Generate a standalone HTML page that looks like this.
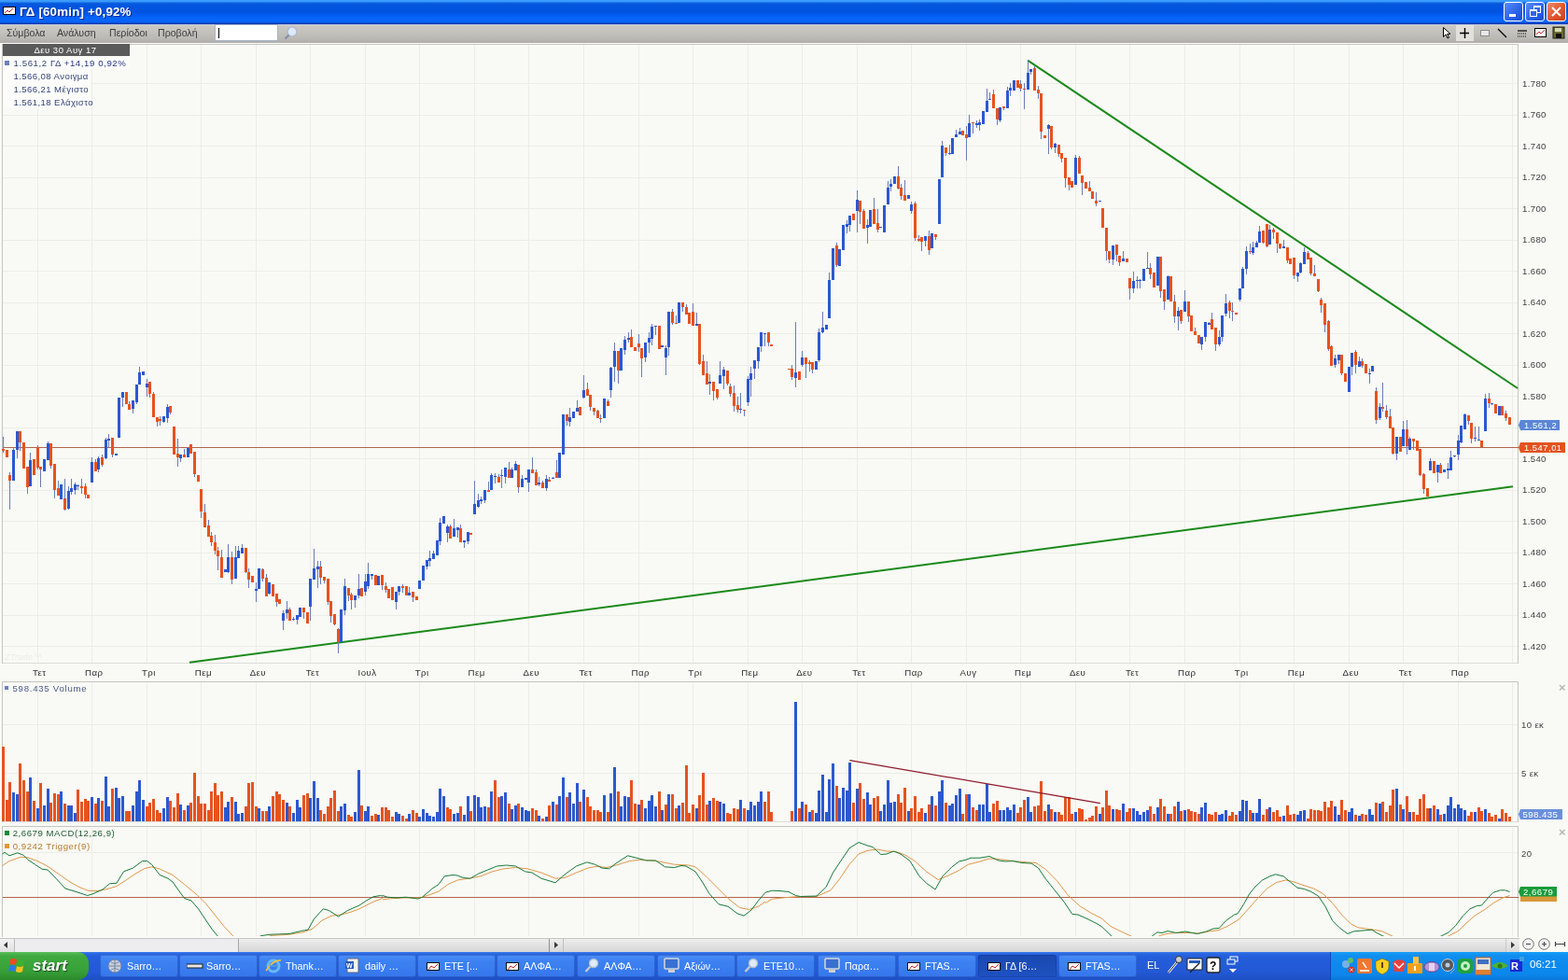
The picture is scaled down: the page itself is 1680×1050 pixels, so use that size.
<!DOCTYPE html>
<html><head><meta charset="utf-8">
<style>
html,body{margin:0;padding:0;}
body{width:1680px;height:1050px;overflow:hidden;position:relative;background:#f9f9f5;font-family:"Liberation Sans","DejaVu Sans",sans-serif;}
#title{position:absolute;left:0;top:0;width:1680px;height:26px;background:linear-gradient(to bottom,#3d9cff 0px,#3896fc 2px,#0c62dc 3px,#0356e0 5px,#0152dc 12px,#0258ea 15px,#0462f6 18px,#0866f8 22px,#0660f0 24px,#0a3cb0 25px,#0a3cb0 26px);}
#title .ic{position:absolute;left:3px;top:7px;width:12px;height:7px;background:#fff;border:1px solid #000;}
#title .tt{position:absolute;left:21px;top:5px;font:bold 13.3px "Liberation Sans",sans-serif;color:#fff;text-shadow:1px 1px 0 #0a2a8a;letter-spacing:0.2px;white-space:nowrap;}
.wb{position:absolute;top:2px;width:19px;height:19px;border:1px solid #fff;border-radius:3px;background:linear-gradient(135deg,#5a8cf8,#2a62e8 60%,#1a4ed0);}
.wb.cl{background:linear-gradient(135deg,#f08a6a,#e2552c 55%,#c8401c);}
#menu{position:absolute;left:0;top:26px;width:1680px;height:20px;background:linear-gradient(to bottom,#c4c8e0 0px,#c4c8e0 1px,#cbc9c3 1px,#c4c2bd 8px,#bbb9b4 15px,#afada9 20px);}
#menu span{position:absolute;top:3px;font-size:10.6px;color:#3c3c3c;white-space:nowrap;}
#search{position:absolute;left:230px;top:26px;width:68px;height:18px;background:#fff;border:1px solid #a8b4c8;box-sizing:border-box;}
#search i{position:absolute;left:3px;top:3px;width:1px;height:11px;background:#000;}
#scroll{position:absolute;left:0;top:1004px;width:1680px;height:16px;background:#f9f9f5;}
#taskbar{position:absolute;left:0;top:1020px;width:1680px;height:30px;background:linear-gradient(to bottom,#3b7ef0 0px,#2a66e0 2px,#245edb 5px,#2358d4 22px,#1d4fc4 30px);}
#start{position:absolute;left:0;top:0;width:95px;height:30px;border-radius:0 12px 12px 0;background:linear-gradient(to bottom,#5cc05c 0px,#40aa40 4px,#38a038 20px,#2c8a2c 30px);}
#start span{position:absolute;left:35px;top:5px;font:italic bold 17px "Liberation Sans",sans-serif;color:#fff;text-shadow:1px 1px 1px #1a4a1a;}
.tb{position:absolute;top:3px;height:24px;width:84px;border-radius:3px;background:linear-gradient(to bottom,#4a8ef8,#3c81f3 30%,#3677ea);box-shadow:inset 0 0 0 1px rgba(20,50,140,.35);}
.tb.act{background:linear-gradient(to bottom,#1a48b0,#1e52c0);}
.tb span{position:absolute;left:29px;top:6px;font-size:10.8px;color:#fff;white-space:nowrap;}
.tb b{position:absolute;left:8px;top:6px;width:13px;height:9px;background:#fff;border:1px solid #222;}
#tray{position:absolute;left:1425px;top:0;width:255px;height:30px;background:linear-gradient(to bottom,#18a0f8 0px,#0f8ef0 4px,#0c86ea 24px,#0a78dc 30px);border-left:1px solid #0a4ab8;}
svg text{font-family:"Liberation Sans","DejaVu Sans",sans-serif;font-size:9.6px;letter-spacing:0.35px;fill:#404040;}
svg text.xl{font-size:9.7px;fill:#303030;letter-spacing:0.45px;}
</style></head><body>
<div id="title"><div class="ic"><svg width="12" height="7" style="position:absolute;left:0;top:0"><path d="M1 6L4 3L6 5L10 1" stroke="#c03030" stroke-width="1" fill="none"/></svg></div><div class="tt">ΓΔ [60min] +0,92%</div>
<div class="wb" style="left:1611px"><i style="position:absolute;left:5px;top:12px;width:7px;height:3px;background:#fff"></i></div><div class="wb" style="left:1634px"><i style="position:absolute;left:8px;top:3px;width:6px;height:5px;border:1px solid #fff;border-top-width:2px"></i><i style="position:absolute;left:4px;top:7px;width:6px;height:5px;border:1px solid #fff;border-top-width:2px;background:#2f66e8"></i></div><div class="wb cl" style="left:1657px"><svg width="19" height="19" style="position:absolute;left:0;top:0"><path d="M5 5L14 14M14 5L5 14" stroke="#fff" stroke-width="2"/></svg></div></div>
<div id="menu"><span style="left:7px">Σύμβολα</span><span style="left:61px">Ανάλυση</span><span style="left:117px">Περίοδοι</span><span style="left:169px">Προβολή</span></div>
<div id="search"><i></i></div>
<div id="tools" style="position:absolute;left:1540px;top:25px;z-index:2;width:140px;height:21px">
<div style="position:absolute;left:20px;top:2px;width:19px;height:17px;background:#e2e0da"></div>
<svg width="140" height="21" style="position:absolute;left:0;top:0">
<path d="M6.5 4.5V14.5L9 12L11 16L12.5 15.3L10.6 11.4H14Z" fill="#fff" stroke="#000" stroke-width="1"/>
<path d="M24 10.5H34M29.5 5V16" stroke="#000" stroke-width="1.4"/>
<rect x="46.5" y="7.5" width="9" height="6" fill="#e8e8e8" stroke="#8a8a8a"/>
<path d="M65 6L74 15" stroke="#000" stroke-width="1.2"/>
<path d="M86 8H96" stroke="#000" stroke-width="1.2"/><path d="M86 11H96M86 14H96" stroke="#000" stroke-width="1" stroke-dasharray="1 1"/>
<rect x="104.5" y="5.5" width="12" height="9" fill="#fff" stroke="#000"/><path d="M106 12L109 9L111 11L115 7" stroke="#c03030" fill="none"/>
<rect x="124" y="4" width="12" height="12" fill="#6a6a30" stroke="#202010"/><rect x="126" y="5" width="7" height="4" fill="#d8d8b0"/><rect x="127" y="11" width="6" height="5" fill="#101010"/>
</svg></div>
<svg width="18" height="18" style="position:absolute;left:303px;top:27px"><circle cx="10" cy="7" r="5" fill="#dce8f8" stroke="#a8b8d0" stroke-width="1.2"/><path d="M6.5 10.5L2.5 14.5" stroke="#8090a8" stroke-width="2.2"/></svg>
<svg width="1680" height="1050" style="position:absolute;left:0;top:0" shape-rendering="crispEdges">
<rect x="0" y="46" width="1680" height="958" fill="#f9f9f5"/>
<rect x="0" y="46" width="1680" height="1" fill="#fdfdfd"/>
<path d="M40.5 48V710M40.5 731V880M40.5 887V1003M98.5 48V710M98.5 731V880M98.5 887V1003M157.5 48V710M157.5 731V880M157.5 887V1003M215.5 48V710M215.5 731V880M215.5 887V1003M274.5 48V710M274.5 731V880M274.5 887V1003M332.5 48V710M332.5 731V880M332.5 887V1003M391.5 48V710M391.5 731V880M391.5 887V1003M449.5 48V710M449.5 731V880M449.5 887V1003M508.5 48V710M508.5 731V880M508.5 887V1003M566.5 48V710M566.5 731V880M566.5 887V1003M625.5 48V710M625.5 731V880M625.5 887V1003M684.5 48V710M684.5 731V880M684.5 887V1003M742.5 48V710M742.5 731V880M742.5 887V1003M801.5 48V710M801.5 731V880M801.5 887V1003M859.5 48V710M859.5 731V880M859.5 887V1003M918.5 48V710M918.5 731V880M918.5 887V1003M976.5 48V710M976.5 731V880M976.5 887V1003M1035.5 48V710M1035.5 731V880M1035.5 887V1003M1093.5 48V710M1093.5 731V880M1093.5 887V1003M1152.5 48V710M1152.5 731V880M1152.5 887V1003M1210.5 48V710M1210.5 731V880M1210.5 887V1003M1269.5 48V710M1269.5 731V880M1269.5 887V1003M1328.5 48V710M1328.5 731V880M1328.5 887V1003M1386.5 48V710M1386.5 731V880M1386.5 887V1003M1445.5 48V710M1445.5 731V880M1445.5 887V1003M1503.5 48V710M1503.5 731V880M1503.5 887V1003M1562.5 48V710M1562.5 731V880M1562.5 887V1003M1620.5 48V710M1620.5 731V880M1620.5 887V1003M3 692.5H1626M3 659.5H1626M3 625.5H1626M3 592.5H1626M3 558.5H1626M3 525.5H1626M3 491.5H1626M3 458.5H1626M3 424.5H1626M3 391.5H1626M3 357.5H1626M3 324.5H1626M3 290.5H1626M3 257.5H1626M3 223.5H1626M3 190.5H1626M3 156.5H1626M3 123.5H1626M3 89.5H1626M3 776.5H1626M3 828.5H1626M3 913.5H1626" stroke="#ededE8" stroke-width="1" fill="none"/>
<path d="M2.5 47V710.5M1626.5 47V710.5M2 47.5H1627M2.5 730V881M1626.5 730V881M2 730.5H1627M2.5 885V1004M1626.5 885V1004M2 885.5H1627" stroke="#c4c4c0" stroke-width="1" fill="none"/>
<path d="M3 710.5H1626M3 880.5H1626" stroke="#dcdcd8" stroke-width="1" fill="none"/>
<g shape-rendering="auto">
<line x1="203" y1="709.8" x2="1621" y2="521.3" stroke="#1a8a1a" stroke-width="2"/>
<line x1="1101" y1="64.6" x2="1626" y2="416" stroke="#1a8a1a" stroke-width="2"/>
</g>
<path d="M3 479.5H1627" stroke="#b06450" stroke-width="1"/>
<path d="M3.5 468.0V484.6M7.5 482.3V490.3M10.5 505.7V546.3M14.5 480.0V515.4M18.5 462.3V491.4M21.5 462.3V483.4M25.5 474.3V501.7M29.5 500.3V528.6M32.5 485.1V520.6M36.5 492.3V508.6M40.5 476.6V503.4M43.5 500.0V521.7M47.5 492.0V504.6M51.5 473.1V492.6M54.5 475.4V502.3M58.5 497.1V533.7M62.5 514.9V531.4M65.5 519.2V534.6M69.5 513.1V547.4M73.5 521.1V546.3M76.5 513.1V530.3M80.5 517.1V530.3M83.5 518.9V524.6M87.5 513.1V529.1M91.5 518.3V534.3M94.5 530.3V533.7M98.5 490.3V516.6M102.5 492.0V504.6M105.5 489.1V506.3M109.5 487.1V499.5M113.5 468.6V491.5M116.5 465.2V479.1M120.5 469.2V489.6M124.5 486.3V487.5M127.5 425.9V469.2M131.5 420.3V436.4M135.5 420.3V433.3M138.5 430.2V438.9M142.5 429.0V442.6M146.5 412.2V432.7M149.5 393.0V412.2M153.5 398.0V401.7M157.5 406.0V424.6M160.5 409.1V425.9M164.5 420.3V446.9M168.5 446.9V457.4M171.5 446.3V455.6M175.5 446.3V452.5M179.5 432.7V452.5M182.5 435.1V443.8M186.5 457.4V486.5M190.5 470.4V499.5M193.5 487.1V495.2M197.5 481.0V489.6M201.5 479.7V489.6M204.5 476.0V485.9M208.5 484.0V511.3M212.5 509.0V515.6M215.5 523.7V555.4M219.5 540.1V565.3M223.5 556.5V574.7M226.5 569.7V585.0M230.5 573.0V593.8M233.5 586.1V611.3M237.5 589.4V619.0M241.5 610.2V612.8M244.5 582.8V613.5M248.5 590.5V625.5M252.5 585.0V620.0M255.5 585.0V598.1M259.5 582.8V592.7M263.5 587.2V613.5M266.5 609.1V629.9M270.5 616.8V624.4M274.5 624.4V645.2M277.5 609.1V631.0M281.5 609.1V623.3M285.5 614.6V638.7M288.5 624.4V636.5M292.5 625.5V638.7M296.5 636.5V649.6M299.5 642.0V647.0M303.5 654.0V674.8M307.5 644.1V662.8M310.5 650.7V665.0M314.5 661.0V665.0M318.5 659.5V669.3M321.5 650.7V660.6M325.5 650.7V662.8M329.5 656.2V668.2M332.5 620.0V665.0M336.5 588.3V621.1M340.5 601.4V629.9M343.5 601.4V625.5M347.5 618.5V624.6M351.5 620.0V648.2M354.5 643.6V666.5M358.5 658.1V670.3M362.5 672.6V700.0M365.5 652.8V687.8M369.5 620.0V658.9M373.5 629.9V644.4M376.5 634.5V652.8M380.5 638.3V651.2M384.5 614.7V641.3M387.5 629.9V638.7M391.5 614.7V638.3M394.5 602.5V631.4M398.5 615.4V620.8M402.5 616.2V626.9M405.5 617.0V626.9M409.5 616.2V632.2M413.5 623.8V634.5M416.5 631.1V640.6M420.5 629.1V642.9M424.5 634.5V652.8M427.5 628.1V638.3M431.5 626.1V635.2M435.5 627.6V637.5M438.5 629.1V637.5M442.5 634.5V645.1M446.5 639.0V642.9M449.5 621.5V630.7M453.5 605.8V622.3M457.5 600.2V610.1M460.5 590.3V607.0M464.5 590.3V598.7M468.5 578.9V594.9M471.5 555.2V584.2M475.5 553.0V561.3M479.5 562.0V581.4M482.5 562.0V576.9M486.5 555.7V574.6M490.5 564.9V576.3M493.5 562.0V581.4M497.5 579.1V586.6M501.5 570.3V582.6M504.5 570.6V572.9M508.5 514.6V550.6M512.5 529.4V544.3M515.5 532.3V540.3M519.5 524.9V538.6M523.5 515.7V526.6M526.5 506.6V524.9M530.5 507.1V518.0M534.5 508.3V516.9M537.5 502.6V522.6M541.5 500.9V518.0M545.5 494.6V511.7M548.5 500.9V511.7M552.5 494.0V503.7M555.5 498.0V527.7M559.5 509.4V522.0M563.5 512.1V514.0M566.5 503.1V526.6M570.5 490.0V506.6M574.5 503.1V519.7M577.5 510.6V521.4M581.5 515.1V522.6M585.5 509.4V526.0M588.5 510.6V516.3M592.5 510.6V512.5M596.5 493.4V512.3M599.5 484.9V512.3M603.5 443.6V486.6M607.5 444.4V455.7M610.5 437.1V456.5M614.5 441.1V448.4M618.5 429.0V441.1M621.5 436.0V445.2M625.5 402.3V427.4M629.5 410.4V424.1M632.5 423.3V439.5M636.5 437.1V445.2M640.5 438.7V447.6M643.5 444.4V452.5M647.5 427.4V448.4M651.5 428.2V434.7M654.5 392.6V425.8M658.5 366.7V408.8M662.5 375.6V411.2M665.5 373.1V397.4M669.5 360.2V380.4M673.5 356.1V366.7M676.5 352.9V372.3M680.5 372.3V376.4M684.5 357.8V377.2M687.5 373.5V403.9M691.5 367.5V387.7M695.5 356.1V378.0M698.5 347.2V369.9M702.5 348.5V358.6M706.5 348.5V374.0M709.5 369.9V371.5M713.5 369.9V402.3M716.5 334.3V381.2M720.5 331.0V348.0M724.5 338.3V347.2M727.5 323.8V345.6M731.5 323.8V334.3M735.5 326.0V336.7M738.5 335.3V346.7M742.5 325.3V349.3M746.5 335.3V349.3M749.5 347.3V391.3M753.5 380.0V402.0M757.5 387.3V412.0M760.5 400.7V422.7M764.5 409.3V428.7M768.5 417.3V428.0M771.5 387.3V410.7M775.5 392.7V417.3M779.5 397.3V413.3M782.5 411.3V424.7M786.5 413.3V440.7M790.5 425.3V442.0M793.5 421.3V443.3M797.5 439.1V446.0M801.5 403.3V434.7M804.5 392.7V424.7M808.5 386.0V406.0M812.5 372.0V395.3M815.5 356.0V376.7M819.5 357.3V371.3M823.5 356.0V370.7M826.5 369.3V370.7M845.5 394.7V395.3M848.5 391.3V406.7M852.5 345.3V414.7M856.5 398.0V407.3M859.5 376.0V392.7M863.5 383.1V404.7M867.5 386.0V398.1M870.5 388.2V400.3M874.5 387.1V395.9M877.5 352.1V388.2M881.5 333.5V356.5M885.5 347.7V353.2M888.5 291.9V340.7M892.5 265.6V299.5M896.5 260.1V286.4M899.5 266.7V285.3M903.5 241.5V267.8M907.5 236.0V250.2M910.5 230.5V248.0M914.5 229.0V236.4M918.5 204.2V249.1M921.5 215.2V240.4M925.5 224.0V244.8M929.5 234.9V261.2M932.5 225.0V242.6M936.5 211.9V239.9M940.5 224.0V249.1M943.5 242.6V244.3M947.5 219.6V249.1M951.5 194.1V219.2M954.5 192.0V204.6M958.5 188.9V197.2M962.5 178.4V202.5M965.5 197.2V214.0M969.5 193.0V215.0M973.5 208.8V212.5M976.5 216.1V228.7M980.5 216.1V258.0M984.5 251.7V259.0M987.5 253.8V268.5M991.5 252.8V264.3M995.5 246.5V272.7M998.5 249.6V266.4M1002.5 251.1V257.0M1006.5 192.4V240.2M1009.5 151.1V190.3M1013.5 158.1V166.9M1017.5 155.3V165.8M1020.5 148.0V164.8M1024.5 139.2V147.0M1028.5 136.5V143.8M1031.5 139.6V144.9M1035.5 135.4V172.1M1038.5 122.9V147.0M1042.5 131.2V142.8M1046.5 129.1V136.5M1049.5 128.1V139.6M1053.5 118.7V133.3M1057.5 94.6V119.7M1060.5 98.8V106.5M1064.5 95.6V115.5M1068.5 116.2V134.4M1071.5 114.9V131.2M1075.5 114.1V117.6M1079.5 92.5V115.5M1082.5 89.3V103.0M1086.5 85.9V97.3M1090.5 85.9V93.9M1093.5 85.9V98.4M1097.5 89.3V116.7M1101.5 64.1V95.7M1104.5 73.7V80.1M1108.5 71.0V96.6M1112.5 91.6V106.4M1115.5 100.3V148.7M1119.5 144.6V148.3M1123.5 132.7V164.7M1126.5 135.0V160.1M1130.5 153.3V163.6M1134.5 155.1V168.1M1137.5 164.3V173.9M1141.5 169.3V201.3M1145.5 189.9V203.6M1148.5 194.4V201.3M1152.5 165.9V197.9M1156.5 167.0V186.4M1159.5 188.0V209.3M1163.5 194.9V202.4M1167.5 194.4V205.4M1170.5 204.7V212.7M1174.5 205.9V220.7M1178.5 214.5V216.1M1181.5 223.0V243.6M1185.5 244.3V279.0M1188.5 268.7V282.4M1192.5 262.5V283.6M1196.5 261.9V280.1M1199.5 274.4V284.7M1203.5 268.7V280.1M1207.5 276.7V281.3M1210.5 298.3V321.4M1214.5 290.7V313.6M1218.5 296.4V308.6M1221.5 299.3V308.6M1225.5 287.9V300.7M1229.5 270.0V287.4M1232.5 282.1V299.3M1236.5 292.1V307.9M1240.5 275.0V305.7M1243.5 275.0V319.3M1247.5 310.3V332.1M1251.5 295.0V320.7M1254.5 295.7V322.9M1258.5 316.4V346.4M1262.5 328.6V354.3M1265.5 332.1V347.1M1269.5 310.7V333.6M1273.5 322.9V345.0M1276.5 337.9V355.0M1280.5 351.4V358.6M1284.5 358.6V367.9M1287.5 360.7V375.0M1291.5 345.0V365.7M1295.5 345.0V348.3M1298.5 335.0V352.9M1302.5 350.7V376.4M1306.5 354.3V371.4M1309.5 337.9V366.4M1313.5 315.0V339.3M1317.5 322.1V340.7M1320.5 324.3V343.6M1324.5 335.3V336.7M1328.5 309.3V322.9M1331.5 285.7V308.6M1335.5 264.3V294.3M1339.5 260.5V271.9M1342.5 258.6V272.9M1346.5 257.6V265.2M1349.5 242.4V260.1M1353.5 247.1V260.5M1357.5 240.5V265.2M1360.5 241.4V262.4M1364.5 244.3V255.7M1368.5 249.0V271.0M1371.5 261.0V267.1M1375.5 256.7V265.8M1379.5 265.2V282.4M1382.5 277.2V283.0M1386.5 276.3V298.6M1390.5 291.9V302.4M1393.5 281.4V292.5M1397.5 265.2V283.3M1401.5 269.0V277.6M1404.5 276.3V294.8M1408.5 284.3V296.3M1412.5 299.0V312.9M1415.5 318.6V334.8M1419.5 325.2V355.7M1423.5 343.3V375.7M1426.5 370.0V391.5M1430.5 379.5V393.8M1434.5 380.1V390.0M1437.5 380.1V402.4M1441.5 400.5V408.7M1445.5 393.4V419.5M1448.5 377.6V402.4M1452.5 374.8V399.5M1456.5 382.4V392.9M1459.5 384.3V393.8M1463.5 390.2V400.4M1467.5 395.1V411.3M1470.5 392.3V397.5M1474.5 415.3V454.2M1478.5 431.5V450.1M1481.5 409.7V441.2M1485.5 434.0V449.3M1489.5 438.0V458.7M1492.5 458.2V487.4M1496.5 468.0V493.0M1500.5 468.0V484.1M1503.5 451.0V477.7M1507.5 450.1V487.4M1510.5 468.0V481.7M1514.5 470.1V481.7M1518.5 472.3V482.5M1521.5 481.4V510.0M1525.5 506.8V528.7M1529.5 523.0V531.9M1532.5 491.4V504.4M1536.5 493.9V506.8M1540.5 497.6V516.5M1543.5 495.5V506.8M1547.5 502.8V506.0M1551.5 496.3V513.3M1554.5 482.5V503.6M1558.5 488.2V489.5M1562.5 466.3V493.0M1565.5 455.8V475.2M1569.5 442.9V459.9M1573.5 445.3V455.0M1576.5 452.9V475.2M1580.5 457.4V472.8M1584.5 456.6V472.0M1587.5 472.0V480.1M1591.5 421.8V462.3M1595.5 421.0V437.2M1598.5 432.3V433.5M1602.5 433.3V443.3M1606.5 435.3V444.7M1609.5 435.3V445.3M1613.5 440.0V450.7M1617.5 447.3V455.3" stroke="#6a7cb4" stroke-width="1" fill="none"/>
<path d="M13 482h3v33h-3zM17 462h3v20h-3zM31 493h3v28h-3zM46 492h3v13h-3zM50 475h3v18h-3zM64 519h3v16h-3zM72 526h3v19h-3zM75 523h3v4h-3zM79 519h3v6h-3zM82 520h3v1h-3zM97 495h3v22h-3zM104 491h3v12h-3zM112 471h3v20h-3zM115 470h3v2h-3zM123 486h3v2h-3zM126 426h3v43h-3zM130 420h3v6h-3zM141 429h3v9h-3zM145 412h3v19h-3zM148 399h3v13h-3zM152 398h3v4h-3zM156 411h3v4h-3zM174 446h3v6h-3zM178 436h3v12h-3zM192 487h3v4h-3zM200 480h3v10h-3zM240 610h3v3h-3zM243 597h3v16h-3zM251 597h3v23h-3zM254 590h3v8h-3zM258 587h3v6h-3zM273 631h3v2h-3zM276 609h3v22h-3zM287 624h3v12h-3zM302 657h3v8h-3zM306 653h3v4h-3zM313 663h3v1h-3zM317 659h3v5h-3zM320 651h3v10h-3zM331 620h3v30h-3zM335 609h3v12h-3zM339 607h3v3h-3zM364 653h3v35h-3zM368 628h3v26h-3zM379 638h3v5h-3zM383 631h3v7h-3zM390 623h3v11h-3zM393 615h3v13h-3zM397 615h3v2h-3zM404 617h3v10h-3zM423 634h3v11h-3zM426 628h3v6h-3zM437 635h3v3h-3zM448 622h3v9h-3zM452 606h3v16h-3zM456 600h3v7h-3zM459 598h3v3h-3zM463 593h3v6h-3zM467 579h3v16h-3zM470 560h3v20h-3zM474 553h3v8h-3zM478 564h3v7h-3zM485 566h3v9h-3zM489 565h3v3h-3zM496 579h3v2h-3zM500 570h3v10h-3zM507 540h3v11h-3zM511 536h3v7h-3zM514 535h3v2h-3zM518 525h3v11h-3zM525 509h3v16h-3zM529 510h3v1h-3zM536 509h3v1h-3zM540 501h3v10h-3zM547 503h3v9h-3zM551 497h3v7h-3zM558 513h3v9h-3zM562 512h3v2h-3zM565 503h3v14h-3zM576 517h3v2h-3zM584 513h3v10h-3zM591 512h3v1h-3zM598 485h3v27h-3zM602 444h3v43h-3zM609 447h3v5h-3zM613 441h3v7h-3zM617 437h3v4h-3zM624 418h3v8h-3zM646 427h3v21h-3zM653 394h3v24h-3zM657 376h3v17h-3zM664 373h3v24h-3zM668 364h3v11h-3zM672 362h3v2h-3zM690 367h3v16h-3zM694 362h3v5h-3zM697 350h3v13h-3zM701 349h3v1h-3zM708 370h3v2h-3zM712 373h3v10h-3zM715 334h3v38h-3zM726 324h3v22h-3zM745 347h3v2h-3zM759 409h3v2h-3zM770 402h3v9h-3zM774 396h3v7h-3zM792 438h3v1h-3zM800 406h3v25h-3zM803 400h3v7h-3zM807 386h3v9h-3zM811 372h3v15h-3zM814 356h3v15h-3zM818 357h3v1h-3zM851 399h3v6h-3zM858 383h3v8h-3zM873 387h3v9h-3zM876 356h3v30h-3zM880 351h3v5h-3zM884 348h3v5h-3zM887 300h3v41h-3zM891 266h3v34h-3zM898 267h3v18h-3zM902 241h3v27h-3zM906 240h3v3h-3zM909 231h3v10h-3zM917 214h3v12h-3zM928 241h3v3h-3zM931 225h3v18h-3zM942 243h3v1h-3zM946 220h3v29h-3zM950 201h3v18h-3zM953 197h3v3h-3zM957 189h3v8h-3zM972 209h3v4h-3zM975 219h3v7h-3zM990 253h3v5h-3zM997 250h3v16h-3zM1005 192h3v48h-3zM1008 156h3v34h-3zM1016 164h3v1h-3zM1019 148h3v17h-3zM1023 144h3v3h-3zM1027 141h3v3h-3zM1037 132h3v15h-3zM1045 132h3v2h-3zM1048 131h3v3h-3zM1052 119h3v14h-3zM1056 108h3v12h-3zM1059 106h3v1h-3zM1070 115h3v14h-3zM1078 97h3v19h-3zM1081 94h3v3h-3zM1085 86h3v11h-3zM1100 78h3v18h-3zM1103 74h3v3h-3zM1122 134h3v4h-3zM1129 154h3v4h-3zM1151 169h3v29h-3zM1177 215h3v1h-3zM1191 263h3v15h-3zM1202 277h3v3h-3zM1213 301h3v8h-3zM1217 300h3v1h-3zM1220 300h3v1h-3zM1224 288h3v13h-3zM1228 287h3v1h-3zM1239 275h3v31h-3zM1250 296h3v25h-3zM1261 333h3v6h-3zM1268 323h3v11h-3zM1286 361h3v8h-3zM1290 345h3v16h-3zM1294 346h3v2h-3zM1305 361h3v8h-3zM1308 338h3v23h-3zM1312 325h3v11h-3zM1327 309h3v12h-3zM1330 288h3v21h-3zM1334 269h3v19h-3zM1341 265h3v6h-3zM1345 260h3v5h-3zM1348 248h3v12h-3zM1359 246h3v16h-3zM1374 264h3v2h-3zM1389 292h3v4h-3zM1392 282h3v10h-3zM1396 270h3v13h-3zM1429 384h3v7h-3zM1433 380h3v6h-3zM1444 393h3v27h-3zM1447 378h3v15h-3zM1455 387h3v6h-3zM1466 400h3v1h-3zM1469 392h3v6h-3zM1477 436h3v12h-3zM1495 468h3v18h-3zM1502 460h3v18h-3zM1509 470h3v12h-3zM1531 494h3v10h-3zM1539 498h3v8h-3zM1546 503h3v3h-3zM1550 502h3v2h-3zM1553 490h3v14h-3zM1557 488h3v1h-3zM1561 472h3v15h-3zM1564 456h3v18h-3zM1568 444h3v16h-3zM1579 469h3v1h-3zM1583 471h3v1h-3zM1590 427h3v35h-3zM1597 432h3v1h-3zM1605 435h3v10h-3z" fill="#2c58cf"/>
<path d="M2 481h3v2h-3zM6 482h3v8h-3zM9 509h3v6h-3zM20 462h3v12h-3zM24 474h3v28h-3zM28 500h3v22h-3zM35 492h3v17h-3zM39 479h3v22h-3zM42 500h3v3h-3zM53 475h3v24h-3zM57 497h3v28h-3zM61 523h3v8h-3zM68 534h3v12h-3zM86 521h3v2h-3zM90 521h3v9h-3zM93 530h3v4h-3zM101 495h3v10h-3zM108 490h3v8h-3zM119 469h3v18h-3zM134 420h3v13h-3zM137 433h3v6h-3zM159 409h3v13h-3zM163 422h3v25h-3zM167 447h3v5h-3zM170 449h3v2h-3zM181 435h3v7h-3zM185 457h3v30h-3zM189 486h3v4h-3zM196 487h3v3h-3zM203 476h3v10h-3zM207 484h3v24h-3zM211 509h3v7h-3zM214 524h3v24h-3zM218 549h3v16h-3zM222 563h3v12h-3zM225 574h3v7h-3zM229 581h3v9h-3zM232 590h3v6h-3zM236 597h3v22h-3zM247 597h3v24h-3zM262 587h3v26h-3zM265 613h3v8h-3zM269 617h3v7h-3zM280 610h3v10h-3zM284 619h3v20h-3zM291 626h3v13h-3zM295 636h3v9h-3zM298 642h3v5h-3zM309 653h3v12h-3zM324 651h3v5h-3zM328 656h3v12h-3zM342 607h3v12h-3zM346 618h3v4h-3zM350 620h3v25h-3zM353 644h3v16h-3zM357 658h3v11h-3zM361 674h3v14h-3zM372 630h3v8h-3zM375 637h3v6h-3zM386 630h3v9h-3zM401 616h3v11h-3zM408 616h3v11h-3zM412 628h3v4h-3zM415 631h3v10h-3zM419 629h3v14h-3zM430 628h3v2h-3zM434 628h3v10h-3zM441 634h3v6h-3zM445 639h3v4h-3zM481 564h3v13h-3zM492 566h3v15h-3zM503 571h3v2h-3zM522 525h3v2h-3zM533 511h3v6h-3zM544 503h3v9h-3zM554 498h3v24h-3zM569 503h3v4h-3zM573 506h3v14h-3zM580 517h3v6h-3zM587 514h3v2h-3zM595 506h3v6h-3zM606 444h3v7h-3zM620 436h3v9h-3zM628 417h3v7h-3zM631 423h3v13h-3zM635 437h3v4h-3zM639 440h3v8h-3zM642 448h3v1h-3zM650 430h3v5h-3zM661 376h3v21h-3zM675 361h3v11h-3zM679 372h3v4h-3zM683 368h3v4h-3zM686 373h3v11h-3zM705 349h3v25h-3zM719 334h3v12h-3zM723 346h3v1h-3zM730 324h3v5h-3zM734 329h3v8h-3zM737 335h3v12h-3zM741 334h3v15h-3zM748 347h3v43h-3zM752 387h3v15h-3zM756 400h3v12h-3zM763 409h3v10h-3zM767 417h3v9h-3zM778 397h3v14h-3zM781 414h3v8h-3zM785 421h3v14h-3zM789 434h3v5h-3zM796 439h3v1h-3zM822 356h3v11h-3zM825 369h3v2h-3zM844 395h3v1h-3zM847 395h3v9h-3zM855 398h3v9h-3zM862 383h3v7h-3zM866 388h3v2h-3zM869 388h3v8h-3zM895 263h3v21h-3zM913 229h3v7h-3zM920 215h3v12h-3zM924 226h3v19h-3zM935 224h3v16h-3zM939 239h3v7h-3zM961 189h3v13h-3zM964 201h3v9h-3zM968 209h3v6h-3zM979 218h3v37h-3zM983 256h3v2h-3zM986 254h3v5h-3zM994 253h3v15h-3zM1001 251h3v3h-3zM1012 158h3v6h-3zM1030 140h3v5h-3zM1034 144h3v4h-3zM1041 131h3v1h-3zM1063 101h3v15h-3zM1067 116h3v12h-3zM1074 114h3v2h-3zM1089 86h3v8h-3zM1092 90h3v5h-3zM1096 95h3v1h-3zM1107 73h3v24h-3zM1111 96h3v4h-3zM1114 100h3v41h-3zM1118 145h3v3h-3zM1125 135h3v23h-3zM1133 155h3v10h-3zM1136 164h3v6h-3zM1140 169h3v22h-3zM1144 190h3v8h-3zM1147 194h3v7h-3zM1155 169h3v17h-3zM1158 188h3v8h-3zM1162 195h3v7h-3zM1166 201h3v4h-3zM1169 205h3v8h-3zM1173 215h3v3h-3zM1180 223h3v21h-3zM1184 244h3v25h-3zM1187 269h3v9h-3zM1195 262h3v11h-3zM1198 274h3v7h-3zM1206 277h3v4h-3zM1209 298h3v11h-3zM1231 287h3v7h-3zM1235 292h3v16h-3zM1242 275h3v37h-3zM1246 310h3v13h-3zM1253 296h3v27h-3zM1257 323h3v16h-3zM1264 332h3v12h-3zM1272 323h3v16h-3zM1275 338h3v17h-3zM1279 355h3v4h-3zM1283 359h3v9h-3zM1297 342h3v11h-3zM1301 351h3v18h-3zM1316 324h3v9h-3zM1319 333h3v1h-3zM1323 335h3v2h-3zM1338 269h3v1h-3zM1352 247h3v13h-3zM1356 240h3v24h-3zM1363 246h3v3h-3zM1367 249h3v12h-3zM1370 261h3v5h-3zM1378 265h3v14h-3zM1381 277h3v6h-3zM1385 276h3v19h-3zM1400 271h3v7h-3zM1403 276h3v17h-3zM1407 293h3v3h-3zM1411 299h3v13h-3zM1414 321h3v6h-3zM1418 325h3v23h-3zM1422 344h3v30h-3zM1425 371h3v21h-3zM1436 380h3v20h-3zM1440 400h3v9h-3zM1451 377h3v14h-3zM1458 387h3v5h-3zM1462 390h3v10h-3zM1473 419h3v31h-3zM1480 436h3v2h-3zM1484 440h3v7h-3zM1488 446h3v13h-3zM1491 458h3v28h-3zM1499 468h3v16h-3zM1506 460h3v18h-3zM1513 470h3v3h-3zM1517 472h3v11h-3zM1520 481h3v28h-3zM1524 508h3v16h-3zM1528 523h3v9h-3zM1535 494h3v13h-3zM1542 498h3v9h-3zM1572 445h3v6h-3zM1575 453h3v17h-3zM1586 472h3v7h-3zM1594 427h3v5h-3zM1601 433h3v10h-3zM1608 435h3v10h-3zM1612 443h3v5h-3zM1616 447h3v8h-3z" fill="#e5531f"/>
<path d="M13 849h3v31h-3zM17 851h3v29h-3zM31 833h3v47h-3zM39 866h3v14h-3zM46 863h3v17h-3zM50 845h3v35h-3zM64 848h3v32h-3zM72 863h3v17h-3zM75 863h3v17h-3zM79 871h3v9h-3zM97 854h3v26h-3zM104 855h3v25h-3zM112 832h3v48h-3zM115 864h3v16h-3zM123 844h3v36h-3zM126 855h3v25h-3zM130 853h3v27h-3zM141 863h3v17h-3zM145 848h3v32h-3zM148 836h3v44h-3zM152 857h3v23h-3zM174 866h3v14h-3zM178 854h3v26h-3zM192 862h3v18h-3zM200 863h3v17h-3zM240 865h3v15h-3zM243 859h3v21h-3zM251 859h3v21h-3zM254 872h3v8h-3zM258 871h3v9h-3zM276 866h3v14h-3zM287 864h3v16h-3zM306 860h3v20h-3zM313 871h3v9h-3zM317 857h3v23h-3zM320 865h3v15h-3zM331 855h3v25h-3zM335 837h3v43h-3zM339 855h3v25h-3zM364 864h3v16h-3zM368 861h3v19h-3zM379 870h3v10h-3zM383 825h3v55h-3zM390 869h3v11h-3zM393 864h3v16h-3zM404 873h3v7h-3zM423 870h3v10h-3zM426 872h3v8h-3zM437 872h3v8h-3zM448 875h3v5h-3zM452 867h3v13h-3zM456 871h3v9h-3zM459 874h3v6h-3zM463 875h3v5h-3zM467 870h3v10h-3zM470 845h3v35h-3zM474 853h3v27h-3zM485 872h3v8h-3zM489 871h3v9h-3zM496 873h3v7h-3zM500 853h3v27h-3zM507 852h3v28h-3zM511 854h3v26h-3zM514 865h3v15h-3zM518 864h3v16h-3zM525 848h3v32h-3zM536 853h3v27h-3zM540 849h3v31h-3zM547 867h3v13h-3zM551 863h3v17h-3zM558 865h3v15h-3zM562 868h3v12h-3zM565 869h3v11h-3zM576 874h3v6h-3zM584 875h3v5h-3zM591 859h3v21h-3zM598 853h3v27h-3zM602 833h3v47h-3zM609 849h3v31h-3zM613 861h3v19h-3zM617 839h3v41h-3zM624 846h3v34h-3zM646 852h3v28h-3zM653 850h3v30h-3zM657 822h3v58h-3zM664 864h3v16h-3zM668 853h3v27h-3zM672 854h3v26h-3zM683 862h3v18h-3zM690 866h3v14h-3zM694 858h3v22h-3zM697 852h3v28h-3zM701 864h3v16h-3zM708 868h3v12h-3zM715 851h3v29h-3zM726 863h3v17h-3zM745 866h3v14h-3zM759 858h3v22h-3zM770 859h3v21h-3zM774 861h3v19h-3zM792 857h3v23h-3zM800 868h3v12h-3zM803 859h3v21h-3zM807 863h3v17h-3zM811 859h3v21h-3zM814 848h3v32h-3zM851 752h3v128h-3zM858 859h3v21h-3zM866 870h3v10h-3zM873 871h3v9h-3zM876 847h3v33h-3zM880 830h3v50h-3zM884 870h3v10h-3zM887 835h3v45h-3zM891 818h3v62h-3zM898 855h3v25h-3zM902 844h3v36h-3zM906 847h3v33h-3zM909 817h3v63h-3zM917 845h3v35h-3zM928 849h3v31h-3zM931 862h3v18h-3zM942 869h3v11h-3zM946 862h3v18h-3zM950 836h3v44h-3zM953 860h3v20h-3zM957 859h3v21h-3zM972 869h3v11h-3zM990 871h3v9h-3zM997 853h3v27h-3zM1005 848h3v32h-3zM1008 836h3v44h-3zM1016 863h3v17h-3zM1019 861h3v19h-3zM1023 852h3v28h-3zM1027 845h3v35h-3zM1037 851h3v29h-3zM1048 862h3v18h-3zM1052 862h3v18h-3zM1056 840h3v40h-3zM1059 870h3v10h-3zM1070 868h3v12h-3zM1074 868h3v12h-3zM1078 865h3v15h-3zM1081 868h3v12h-3zM1085 862h3v18h-3zM1100 854h3v26h-3zM1103 870h3v10h-3zM1122 862h3v18h-3zM1129 870h3v10h-3zM1151 870h3v10h-3zM1177 872h3v8h-3zM1191 867h3v13h-3zM1202 861h3v19h-3zM1213 866h3v14h-3zM1217 869h3v11h-3zM1220 873h3v7h-3zM1224 870h3v10h-3zM1228 868h3v12h-3zM1239 865h3v15h-3zM1250 872h3v8h-3zM1261 859h3v21h-3zM1268 868h3v12h-3zM1286 865h3v15h-3zM1290 860h3v20h-3zM1305 873h3v7h-3zM1308 872h3v8h-3zM1312 868h3v12h-3zM1327 869h3v11h-3zM1330 857h3v23h-3zM1334 858h3v22h-3zM1341 871h3v9h-3zM1345 871h3v9h-3zM1348 856h3v24h-3zM1359 865h3v15h-3zM1374 874h3v6h-3zM1389 873h3v7h-3zM1392 869h3v11h-3zM1396 868h3v12h-3zM1429 864h3v16h-3zM1433 873h3v7h-3zM1444 870h3v10h-3zM1447 866h3v14h-3zM1455 874h3v6h-3zM1466 867h3v13h-3zM1469 873h3v7h-3zM1477 861h3v19h-3zM1495 845h3v35h-3zM1502 867h3v13h-3zM1509 870h3v10h-3zM1531 866h3v14h-3zM1539 867h3v13h-3zM1546 872h3v8h-3zM1550 863h3v17h-3zM1553 854h3v26h-3zM1557 866h3v14h-3zM1561 862h3v18h-3zM1564 866h3v14h-3zM1568 868h3v12h-3zM1579 870h3v10h-3zM1590 867h3v13h-3zM1605 877h3v3h-3z" fill="#2c58cf"/>
<path d="M2 800h3v80h-3zM6 857h3v23h-3zM9 838h3v42h-3zM20 818h3v62h-3zM24 836h3v44h-3zM28 848h3v32h-3zM35 858h3v22h-3zM42 839h3v41h-3zM53 860h3v20h-3zM57 850h3v30h-3zM61 851h3v29h-3zM68 861h3v19h-3zM82 846h3v34h-3zM86 859h3v21h-3zM90 856h3v24h-3zM93 858h3v22h-3zM101 861h3v19h-3zM108 858h3v22h-3zM119 845h3v35h-3zM134 869h3v11h-3zM137 869h3v11h-3zM156 864h3v16h-3zM159 860h3v20h-3zM163 856h3v24h-3zM167 868h3v12h-3zM170 871h3v9h-3zM181 858h3v22h-3zM185 865h3v15h-3zM189 850h3v30h-3zM196 868h3v12h-3zM203 860h3v20h-3zM207 828h3v52h-3zM211 853h3v27h-3zM214 861h3v19h-3zM218 861h3v19h-3zM222 868h3v12h-3zM225 848h3v32h-3zM229 839h3v41h-3zM232 852h3v28h-3zM236 848h3v32h-3zM247 854h3v26h-3zM262 864h3v16h-3zM265 839h3v41h-3zM269 838h3v42h-3zM273 864h3v16h-3zM280 869h3v11h-3zM284 869h3v11h-3zM291 853h3v27h-3zM295 848h3v32h-3zM298 851h3v29h-3zM302 857h3v23h-3zM309 864h3v16h-3zM324 852h3v28h-3zM328 850h3v30h-3zM342 868h3v12h-3zM346 872h3v8h-3zM350 864h3v16h-3zM353 855h3v25h-3zM357 847h3v33h-3zM361 869h3v11h-3zM372 873h3v7h-3zM375 875h3v5h-3zM386 863h3v17h-3zM397 874h3v6h-3zM401 872h3v8h-3zM408 865h3v15h-3zM412 865h3v15h-3zM415 868h3v12h-3zM419 875h3v5h-3zM430 874h3v6h-3zM434 877h3v3h-3zM441 868h3v12h-3zM445 871h3v9h-3zM478 865h3v15h-3zM481 867h3v13h-3zM492 864h3v16h-3zM503 869h3v11h-3zM522 865h3v15h-3zM529 836h3v44h-3zM533 854h3v26h-3zM544 861h3v19h-3zM554 861h3v19h-3zM569 866h3v14h-3zM573 868h3v12h-3zM580 877h3v3h-3zM587 863h3v17h-3zM595 862h3v18h-3zM606 854h3v26h-3zM620 859h3v21h-3zM628 854h3v26h-3zM631 864h3v16h-3zM635 868h3v12h-3zM639 868h3v12h-3zM642 870h3v10h-3zM650 870h3v10h-3zM661 848h3v32h-3zM675 836h3v44h-3zM679 861h3v19h-3zM686 857h3v23h-3zM705 848h3v32h-3zM712 862h3v18h-3zM719 851h3v29h-3zM723 866h3v14h-3zM730 860h3v20h-3zM734 820h3v60h-3zM737 871h3v9h-3zM741 862h3v18h-3zM748 852h3v28h-3zM752 828h3v52h-3zM756 862h3v18h-3zM763 855h3v25h-3zM767 858h3v22h-3zM778 871h3v9h-3zM781 872h3v8h-3zM785 866h3v14h-3zM789 867h3v13h-3zM796 866h3v14h-3zM818 859h3v21h-3zM822 848h3v32h-3zM825 870h3v10h-3zM847 869h3v11h-3zM855 866h3v14h-3zM862 862h3v18h-3zM869 868h3v12h-3zM895 842h3v38h-3zM913 860h3v20h-3zM920 839h3v41h-3zM924 856h3v24h-3zM935 855h3v25h-3zM939 853h3v27h-3zM961 851h3v29h-3zM964 860h3v20h-3zM968 844h3v36h-3zM975 866h3v14h-3zM979 853h3v27h-3zM983 870h3v10h-3zM986 866h3v14h-3zM994 862h3v18h-3zM1001 863h3v17h-3zM1012 860h3v20h-3zM1030 872h3v8h-3zM1034 851h3v29h-3zM1041 865h3v15h-3zM1045 868h3v12h-3zM1063 861h3v19h-3zM1067 858h3v22h-3zM1089 871h3v9h-3zM1092 865h3v15h-3zM1096 857h3v23h-3zM1107 864h3v16h-3zM1111 863h3v17h-3zM1114 837h3v43h-3zM1118 869h3v11h-3zM1125 867h3v13h-3zM1133 870h3v10h-3zM1136 873h3v7h-3zM1140 854h3v26h-3zM1144 854h3v26h-3zM1147 872h3v8h-3zM1155 866h3v14h-3zM1158 867h3v13h-3zM1162 878h3v2h-3zM1166 876h3v4h-3zM1169 874h3v6h-3zM1173 864h3v16h-3zM1180 865h3v15h-3zM1184 847h3v33h-3zM1187 863h3v17h-3zM1195 867h3v13h-3zM1198 868h3v12h-3zM1206 870h3v10h-3zM1209 866h3v14h-3zM1231 864h3v16h-3zM1235 872h3v8h-3zM1242 856h3v24h-3zM1246 864h3v16h-3zM1253 872h3v8h-3zM1257 864h3v16h-3zM1264 869h3v11h-3zM1272 867h3v13h-3zM1275 869h3v11h-3zM1279 870h3v10h-3zM1283 872h3v8h-3zM1294 872h3v8h-3zM1297 873h3v7h-3zM1301 870h3v10h-3zM1316 874h3v6h-3zM1319 870h3v10h-3zM1323 873h3v7h-3zM1338 868h3v12h-3zM1352 873h3v7h-3zM1356 867h3v13h-3zM1363 870h3v10h-3zM1367 868h3v12h-3zM1370 875h3v5h-3zM1378 863h3v17h-3zM1381 873h3v7h-3zM1385 872h3v8h-3zM1400 877h3v3h-3zM1403 867h3v13h-3zM1407 868h3v12h-3zM1411 868h3v12h-3zM1414 869h3v11h-3zM1418 859h3v21h-3zM1422 865h3v15h-3zM1425 858h3v22h-3zM1436 857h3v23h-3zM1440 868h3v12h-3zM1451 873h3v7h-3zM1458 872h3v8h-3zM1462 873h3v7h-3zM1473 860h3v20h-3zM1480 859h3v21h-3zM1484 870h3v10h-3zM1488 863h3v17h-3zM1491 846h3v34h-3zM1499 862h3v18h-3zM1506 853h3v27h-3zM1513 870h3v10h-3zM1517 873h3v7h-3zM1520 856h3v24h-3zM1524 851h3v29h-3zM1528 866h3v14h-3zM1535 863h3v17h-3zM1542 873h3v7h-3zM1572 874h3v6h-3zM1575 870h3v10h-3zM1583 865h3v15h-3zM1586 869h3v11h-3zM1594 871h3v9h-3zM1597 875h3v5h-3zM1601 873h3v7h-3zM1608 867h3v13h-3zM1612 871h3v9h-3zM1616 875h3v5h-3z" fill="#e5531f"/>
<path d="M910.3 814.6L1178.8 860.6" stroke="#8c1c2c" stroke-width="1.3" shape-rendering="auto"/>
<path d="M3 961.5H1627" stroke="#b06450" stroke-width="1"/>
<g shape-rendering="auto">
<clipPath id="mc0"><rect x="0" y="886" width="410" height="117"/></clipPath>
<polyline clip-path="url(#mc0)" points="2.5,927.5 10.0,922.5 22.5,918.2 30.0,918.8 40.0,922.5 50.0,927.5 62.5,936.2 75.0,945.0 85.0,950.5 95.0,954.5 105.0,954.5 115.0,952.5 125.0,949.5 135.0,943.0 145.0,936.2 155.0,930.5 162.5,928.8 170.0,930.5 185.0,937.5 197.5,947.5 212.5,960.0 220.0,967.5 230.0,980.0 240.0,992.5 251.2,1004.5" fill="none" stroke="#de9848" stroke-width="1" stroke-linejoin="round"/>
<polyline clip-path="url(#mc0)" points="287.5,1003.8 290.0,1002.5 310.0,1001.2 325.0,998.8 335.0,995.0 345.0,986.2 355.0,981.2 365.0,980.0 375.0,977.5 385.0,973.8 400.0,966.2 410.0,962.5" fill="none" stroke="#de9848" stroke-width="1" stroke-linejoin="round"/>
<polyline clip-path="url(#mc0)" points="2.5,915.0 5.0,913.2 10.0,916.8 18.8,913.8 25.0,916.2 30.0,921.2 37.5,926.2 45.0,931.2 51.2,932.0 60.0,941.2 70.0,952.0 80.0,955.0 93.8,959.5 100.0,957.5 110.0,953.0 117.5,946.8 125.0,946.2 132.5,933.8 142.5,930.0 152.5,922.5 157.5,922.5 162.5,926.2 171.2,937.5 180.0,941.2 185.0,945.0 197.5,962.5 205.0,965.0 212.5,973.8 220.0,985.0 227.5,996.2 235.0,1005.0" fill="none" stroke="#167a3a" stroke-width="1" stroke-linejoin="round"/>
<polyline clip-path="url(#mc0)" points="277.5,1003.8 280.0,1002.5 290.0,1001.2 310.0,1000.5 322.5,997.5 330.0,996.2 336.2,985.0 346.2,973.8 352.5,975.5 362.5,982.0 372.5,975.5 385.0,970.0 392.5,965.0 400.0,960.8 407.5,959.5 415.0,961.2" fill="none" stroke="#167a3a" stroke-width="1" stroke-linejoin="round"/>
<clipPath id="mc1"><rect x="410" y="886" width="410" height="117"/></clipPath>
<polyline clip-path="url(#mc1)" points="410.0,963.8 420.0,962.5 435.0,962.0 450.0,962.0 460.0,958.8 470.0,955.0 480.0,947.5 490.0,943.0 502.5,941.2 515.0,938.8 527.5,933.8 540.0,930.8 552.5,929.5 565.0,930.8 580.0,935.0 595.0,941.2 605.0,940.5 617.5,935.0 630.0,930.0 640.0,928.2 650.0,929.5 660.0,927.0 675.0,922.5 685.0,921.2 700.0,922.0 710.0,923.8 722.5,926.2 737.5,927.0 745.0,928.8 755.0,937.5 767.5,950.0 780.0,962.5 792.5,972.5 802.5,974.5 812.5,971.2 820.0,966.2" fill="none" stroke="#de9848" stroke-width="1" stroke-linejoin="round"/>
<polyline clip-path="url(#mc1)" points="410.0,959.5 415.0,961.2 425.0,962.0 435.0,961.2 447.5,963.0 452.5,961.2 462.5,952.5 470.0,947.5 476.2,938.8 485.0,937.5 490.0,938.0 496.2,940.5 503.8,941.2 512.5,936.2 522.5,932.0 532.5,928.0 542.5,927.0 552.5,928.0 562.5,933.8 570.0,935.0 580.0,941.2 595.0,945.8 605.0,937.0 617.5,928.0 628.8,923.8 637.5,926.2 645.0,930.0 652.5,930.8 660.0,925.0 672.5,916.8 685.0,920.0 692.5,922.0 702.5,922.0 712.5,928.8 722.5,929.5 730.0,927.5 735.0,928.0 745.0,933.8 752.5,945.0 760.0,957.5 770.0,968.8 780.0,971.2 790.0,978.8 797.0,981.2 805.0,975.0 812.5,965.0 820.0,956.2" fill="none" stroke="#167a3a" stroke-width="1" stroke-linejoin="round"/>
<clipPath id="mc2"><rect x="820" y="886" width="400" height="117"/></clipPath>
<polyline clip-path="url(#mc2)" points="820.0,967.5 827.5,963.2 840.0,961.8 852.5,960.8 875.0,960.5 890.0,953.8 900.0,941.2 910.0,926.2 920.0,915.0 930.0,911.2 940.0,910.0 950.0,912.0 960.0,912.5 970.0,916.2 980.0,922.5 992.5,933.8 1005.0,942.5 1017.5,937.5 1027.5,932.5 1037.5,926.2 1050.0,923.0 1060.0,920.0 1070.0,920.5 1085.0,922.5 1100.0,923.8 1110.0,924.5 1120.0,931.2 1132.5,943.8 1145.0,960.0 1157.5,971.2 1170.0,978.8 1180.0,983.8 1190.0,992.5 1200.0,997.5 1215.0,1004.5" fill="none" stroke="#de9848" stroke-width="1" stroke-linejoin="round"/>
<polyline clip-path="url(#mc2)" points="820.0,956.2 827.5,954.2 835.0,954.5 845.0,955.5 852.5,959.5 857.5,960.5 875.0,960.0 885.0,950.5 892.5,935.0 902.5,920.0 910.0,908.8 920.0,902.5 930.0,906.2 935.0,907.5 943.8,915.5 950.0,915.0 957.5,912.0 965.0,915.0 975.0,922.5 985.0,938.8 992.5,946.2 1002.0,953.0 1010.0,938.8 1020.0,928.8 1027.5,923.0 1035.0,921.2 1040.0,919.2 1050.0,919.2 1060.0,917.5 1070.0,922.0 1077.5,923.0 1085.0,922.5 1095.0,924.5 1105.0,925.0 1112.5,930.0 1120.0,941.2 1130.0,953.8 1140.0,966.2 1148.8,979.5 1155.0,980.0 1165.0,984.5 1175.0,989.5 1180.0,992.5 1192.5,1004.5" fill="none" stroke="#167a3a" stroke-width="1" stroke-linejoin="round"/>
<clipPath id="mc3"><rect x="1220" y="886" width="406" height="117"/></clipPath>
<polyline clip-path="url(#mc3)" points="1238.8,1004.5 1242.5,1002.5 1250.0,1000.5 1260.0,999.5 1275.0,999.5 1285.0,1000.0 1295.0,998.0 1305.0,996.8 1315.0,992.5 1327.5,985.0 1337.5,973.8 1347.5,962.5 1357.5,952.0 1367.5,945.5 1377.5,943.0 1385.0,944.5 1395.0,948.0 1407.5,952.0 1417.5,957.5 1427.5,967.5 1437.5,980.0 1447.5,990.0 1455.0,993.8 1467.5,995.5 1480.0,997.5 1495.0,1004.5" fill="none" stroke="#de9848" stroke-width="1" stroke-linejoin="round"/>
<polyline clip-path="url(#mc3)" points="1548.8,1004.5 1552.5,1002.5 1562.5,997.5 1570.0,990.0 1580.0,981.2 1590.0,975.0 1600.0,967.5 1610.0,962.0 1617.5,959.5" fill="none" stroke="#de9848" stroke-width="1" stroke-linejoin="round"/>
<polyline clip-path="url(#mc3)" points="1232.5,1004.5 1235.0,1002.5 1240.0,998.8 1245.0,999.5 1251.2,997.5 1260.0,999.5 1270.0,998.0 1282.5,1000.5 1292.5,998.0 1300.0,995.0 1306.2,994.5 1313.8,986.2 1322.5,980.0 1326.2,978.8 1332.5,968.8 1338.8,957.5 1345.0,950.0 1352.5,943.0 1360.0,939.2 1366.2,936.8 1375.0,938.8 1382.5,945.0 1390.0,951.2 1397.5,952.5 1405.0,955.5 1412.5,960.0 1420.0,971.2 1427.5,986.2 1435.0,993.8 1443.8,1000.5 1450.0,998.0 1460.0,997.0 1470.0,996.2 1475.0,999.5 1485.0,1004.5" fill="none" stroke="#167a3a" stroke-width="1" stroke-linejoin="round"/>
<polyline clip-path="url(#mc3)" points="1541.2,1004.5 1545.0,1002.5 1552.5,998.8 1560.0,991.2 1567.5,981.2 1575.0,973.8 1582.5,970.5 1587.5,970.0 1595.0,961.2 1600.0,956.2 1607.5,953.8 1612.5,953.8 1617.5,955.5" fill="none" stroke="#167a3a" stroke-width="1" stroke-linejoin="round"/>
</g>
<text x="1631" y="695.9">1.420</text>
<text x="1631" y="662.4">1.440</text>
<text x="1631" y="628.9">1.460</text>
<text x="1631" y="595.4">1.480</text>
<text x="1631" y="561.9">1.500</text>
<text x="1631" y="528.4">1.520</text>
<text x="1631" y="494.9">1.540</text>
<text x="1631" y="427.9">1.580</text>
<text x="1631" y="394.4">1.600</text>
<text x="1631" y="360.9">1.620</text>
<text x="1631" y="327.4">1.640</text>
<text x="1631" y="293.9">1.660</text>
<text x="1631" y="260.4">1.680</text>
<text x="1631" y="226.9">1.700</text>
<text x="1631" y="193.4">1.720</text>
<text x="1631" y="159.9">1.740</text>
<text x="1631" y="126.4">1.760</text>
<text x="1631" y="92.9">1.780</text>
<text x="42.3" y="724" text-anchor="middle" class="xl">Τετ</text>
<text x="100.8" y="724" text-anchor="middle" class="xl">Παρ</text>
<text x="159.4" y="724" text-anchor="middle" class="xl">Τρι</text>
<text x="217.9" y="724" text-anchor="middle" class="xl">Πεμ</text>
<text x="276.4" y="724" text-anchor="middle" class="xl">Δευ</text>
<text x="335.0" y="724" text-anchor="middle" class="xl">Τετ</text>
<text x="393.5" y="724" text-anchor="middle" class="xl">Ιουλ</text>
<text x="452.1" y="724" text-anchor="middle" class="xl">Τρι</text>
<text x="510.6" y="724" text-anchor="middle" class="xl">Πεμ</text>
<text x="569.2" y="724" text-anchor="middle" class="xl">Δευ</text>
<text x="627.7" y="724" text-anchor="middle" class="xl">Τετ</text>
<text x="686.3" y="724" text-anchor="middle" class="xl">Παρ</text>
<text x="744.8" y="724" text-anchor="middle" class="xl">Τρι</text>
<text x="803.3" y="724" text-anchor="middle" class="xl">Πεμ</text>
<text x="861.9" y="724" text-anchor="middle" class="xl">Δευ</text>
<text x="920.4" y="724" text-anchor="middle" class="xl">Τετ</text>
<text x="979.0" y="724" text-anchor="middle" class="xl">Παρ</text>
<text x="1037.5" y="724" text-anchor="middle" class="xl">Αυγ</text>
<text x="1096.1" y="724" text-anchor="middle" class="xl">Πεμ</text>
<text x="1154.6" y="724" text-anchor="middle" class="xl">Δευ</text>
<text x="1213.2" y="724" text-anchor="middle" class="xl">Τετ</text>
<text x="1271.7" y="724" text-anchor="middle" class="xl">Παρ</text>
<text x="1330.2" y="724" text-anchor="middle" class="xl">Τρι</text>
<text x="1388.8" y="724" text-anchor="middle" class="xl">Πεμ</text>
<text x="1447.3" y="724" text-anchor="middle" class="xl">Δευ</text>
<text x="1505.9" y="724" text-anchor="middle" class="xl">Τετ</text>
<text x="1564.4" y="724" text-anchor="middle" class="xl">Παρ</text>
<text x="1630" y="780">10 εκ</text>
<text x="1630" y="832">5 εκ</text>
<text x="1630" y="917.5">20</text>
<rect x="3" y="47" width="136" height="13" fill="#5a5a5a"/>
<text x="70" y="57.3" text-anchor="middle" style="fill:#fff;font-size:9.5px;letter-spacing:0.5px">Δευ 30 Αυγ 17</text>
<rect x="3" y="61" width="136" height="13" fill="#fcfcfa"/>
<rect x="3" y="74" width="94" height="42" fill="#fcfcfa"/>
<rect x="5" y="65" width="5" height="5" fill="#6a80b8"/>
<text x="14.5" y="71" style="fill:#34457a;font-size:9.6px;letter-spacing:0.6px">1.561,2 ΓΔ <tspan style="fill:#26358a">+14,19 0,92%</tspan></text>
<text x="14.5" y="85" style="fill:#34457a;font-size:9.6px;letter-spacing:0.4px">1.566,08 Ανοιγμα</text>
<text x="14.5" y="99" style="fill:#34457a;font-size:9.6px;letter-spacing:0.4px">1.566,21 Μέγιστο</text>
<text x="14.5" y="113" style="fill:#34457a;font-size:9.6px;letter-spacing:0.4px">1.561,18 Ελάχιστο</text>
<rect x="5" y="735" width="4" height="4" fill="#6a80c8"/>
<text x="13.5" y="740.5" style="fill:#4a5a8a;font-size:9.6px;letter-spacing:0.75px">598.435 Volume</text>
<rect x="5" y="890" width="5" height="5" fill="#108a3a"/>
<text x="13.7" y="895.8" style="fill:#1a5a2e;font-size:9.6px;letter-spacing:0.55px">2,6679 MACD(12,26,9)</text>
<rect x="5" y="904" width="5" height="5" fill="#e8962e"/>
<text x="13.7" y="909.8" style="fill:#b47a2c;font-size:9.6px;letter-spacing:0.55px">0,9242 Trigger(9)</text>
<text x="5" y="707" style="fill:#ececE8;font-size:9px;font-style:italic">ZTrade™</text>
<path d="M1627 455.5L1629 450H1671V461H1629Z" fill="#5b86d6" shape-rendering="auto"/>
<text x="1633" y="458.9" style="fill:#fff;font-size:9.3px;letter-spacing:0.6px">1.561,2</text>
<path d="M1627 479.5L1629 474H1677V485H1629Z" fill="#e2531f" shape-rendering="auto"/>
<text x="1633" y="482.9" style="fill:#fff;font-size:9.3px;letter-spacing:0.55px">1.547,01</text>
<path d="M1627 872.5L1629 867H1674V878H1629Z" fill="#6a90dc" shape-rendering="auto"/>
<text x="1631.5" y="876.2" style="fill:#fff;font-size:9.6px;letter-spacing:0.45px">598.435</text>
<rect x="1629" y="960" width="39" height="6" fill="#d89a3a"/>
<path d="M1627 955.5L1629 950H1668V960.5H1629Z" fill="#1a9a3a" shape-rendering="auto"/>
<text x="1632" y="958.8" style="fill:#fff;font-size:9.6px;letter-spacing:0.5px">2,6679</text>
<path d="M1671 734L1676.5 739.5M1676.5 734L1671 739.5M1671 889L1676.5 894.5M1676.5 889L1671 894.5" stroke="#b4b4b0" stroke-width="1.4" shape-rendering="auto"/>
</svg>
<div id="scroll">
<div style="position:absolute;left:0;top:0;width:1628px;height:1px;background:#fcfcfc"></div>
<div style="position:absolute;left:0;top:1px;width:1628px;height:1px;background:#c4c4c4"></div>
<div style="position:absolute;left:0;top:2px;width:15px;height:14px;background:linear-gradient(#f2f2f2,#e0e0e0);border-right:1px solid #b8b8b8"></div>
<div style="position:absolute;left:16px;top:2px;width:239px;height:14px;background:#edecef"></div>
<div style="position:absolute;left:255px;top:2px;width:1px;height:14px;background:#a8a8a8"></div>
<div style="position:absolute;left:256px;top:2px;width:1357px;height:14px;background:linear-gradient(#eeeeee,#e4e4e4 40%,#d6d6d6)"></div>
<div style="position:absolute;left:588px;top:2px;width:1px;height:14px;background:#909090"></div>
<div style="position:absolute;left:603px;top:2px;width:1px;height:14px;background:#c0c0c0"></div>
<div style="position:absolute;left:1613px;top:2px;width:1px;height:14px;background:#c8c8c8"></div>
<div style="position:absolute;left:1614px;top:2px;width:14px;height:14px;background:linear-gradient(#eeeeee,#d8d8d8)"></div>
<svg width="1680" height="16" style="position:absolute;left:0;top:0">
<path d="M4 8.5L8 5V12Z" fill="#383838"/>
<path d="M594 5V12L598 8.5Z" fill="#383838"/>
<path d="M1619 5V12L1623 8.5Z" fill="#383838"/>
<circle cx="1637.5" cy="7.5" r="5.8" fill="#f4f4f4" stroke="#707070" stroke-width="1"/><path d="M1635 7.5H1640" stroke="#505050" stroke-width="1.2"/>
<circle cx="1654.5" cy="7.5" r="5.8" fill="#f4f4f4" stroke="#707070" stroke-width="1"/><path d="M1652 7.5H1657M1654.5 5V10" stroke="#505050" stroke-width="1.2"/>
<path d="M1666.5 5V10M1676.5 5V10M1667 7.5H1676" stroke="#404040" stroke-width="1.1"/>
</svg>
</div>
<div id="taskbar"><div id="start"><svg width="22" height="20" style="position:absolute;left:8px;top:5px"><path d="M3 3Q6 1 10 3L9 9Q5 7 2 9Z" fill="#f04a20"/><path d="M11 3Q14 5 18 3L17 9Q14 11 10 9Z" fill="#40b030"/><path d="M2 10Q5 8 9 10L8 16Q4 14 1 16Z" fill="#2a7ae8"/><path d="M10 10Q13 12 17 10L16 16Q13 18 9 16Z" fill="#f8c020"/></svg><span>start</span></div>
<div class="tb" style="left:107px"><svg width="16" height="16" style="position:absolute;left:8px;top:4px"><circle cx="8" cy="8" r="7" fill="#c8d0e0" stroke="#7080a0"/><path d="M2 8H14M8 1V15M4 4Q8 7 12 4M4 12Q8 9 12 12" stroke="#6a7890" fill="none" stroke-width=".8"/></svg><span>Sarro…</span></div><div class="tb" style="left:192px"><svg width="18" height="16" style="position:absolute;left:8px;top:4px"><rect x="0" y="6" width="17" height="4" fill="#e8e8e8" stroke="#202020"/></svg><span>Sarro…</span></div><div class="tb" style="left:277px"><svg width="18" height="18" style="position:absolute;left:7px;top:3px"><ellipse cx="9" cy="9" rx="6" ry="6" fill="none" stroke="#6ab8f8" stroke-width="3"/><path d="M1 14Q9 2 17 3" stroke="#f0c040" stroke-width="1.6" fill="none"/><path d="M5 9H13" stroke="#4a98e8" stroke-width="2"/></svg><span>Thank…</span></div><div class="tb" style="left:362px"><svg width="16" height="18" style="position:absolute;left:8px;top:3px"><rect x="2" y="1" width="12" height="15" fill="#f4f4f4" stroke="#606880"/><rect x="0" y="4" width="9" height="8" fill="#2a5ab8"/><text x="1" y="11" style="font:bold 7px sans-serif;fill:#fff">W</text></svg><span>daily …</span></div><div class="tb" style="left:447px"><svg width="16" height="12" style="position:absolute;left:10px;top:8px"><rect x="0.5" y="0.5" width="13" height="8" fill="#fff" stroke="#111"/><path d="M2 8L5 4L8 6L12 2" stroke="#c02020" fill="none"/></svg><span>ETE [...</span></div><div class="tb" style="left:532px"><svg width="16" height="12" style="position:absolute;left:10px;top:8px"><rect x="0.5" y="0.5" width="13" height="8" fill="#fff" stroke="#111"/><path d="M2 8L5 4L8 6L12 2" stroke="#c02020" fill="none"/></svg><span>ΑΛΦΑ…</span></div><div class="tb" style="left:618px"><svg width="18" height="18" style="position:absolute;left:7px;top:3px"><circle cx="11" cy="6" r="4.5" fill="#e0ecf8" stroke="#b0c0d0" stroke-width="1.4"/><path d="M7.5 9.5L2.5 15" stroke="#c0c8d0" stroke-width="2.6"/></svg><span>ΑΛΦΑ…</span></div><div class="tb" style="left:704px"><svg width="18" height="18" style="position:absolute;left:7px;top:3px"><rect x="1" y="1" width="15" height="11" rx="1" fill="#3a70d0" stroke="#d8d8d8" stroke-width="1.5"/><rect x="5" y="13" width="7" height="3" fill="#d0d0d0"/></svg><span>Αξιών…</span></div><div class="tb" style="left:789px"><svg width="18" height="18" style="position:absolute;left:7px;top:3px"><circle cx="11" cy="6" r="4.5" fill="#e0ecf8" stroke="#b0c0d0" stroke-width="1.4"/><path d="M7.5 9.5L2.5 15" stroke="#c0c8d0" stroke-width="2.6"/></svg><span>ETE10…</span></div><div class="tb" style="left:876px"><svg width="18" height="18" style="position:absolute;left:7px;top:3px"><rect x="1" y="1" width="15" height="11" rx="1" fill="#3a70d0" stroke="#d8d8d8" stroke-width="1.5"/><rect x="5" y="13" width="7" height="3" fill="#d0d0d0"/></svg><span>Παρα…</span></div><div class="tb" style="left:962px"><svg width="16" height="12" style="position:absolute;left:10px;top:8px"><rect x="0.5" y="0.5" width="13" height="8" fill="#fff" stroke="#111"/><path d="M2 8L5 4L8 6L12 2" stroke="#c02020" fill="none"/></svg><span>FTAS…</span></div><div class="tb act" style="left:1048px"><svg width="16" height="12" style="position:absolute;left:10px;top:8px"><rect x="0.5" y="0.5" width="13" height="8" fill="#fff" stroke="#111"/><path d="M2 8L5 4L8 6L12 2" stroke="#c02020" fill="none"/></svg><span>ΓΔ [6…</span></div><div class="tb" style="left:1134px"><svg width="16" height="12" style="position:absolute;left:10px;top:8px"><rect x="0.5" y="0.5" width="13" height="8" fill="#fff" stroke="#111"/><path d="M2 8L5 4L8 6L12 2" stroke="#c02020" fill="none"/></svg><span>FTAS…</span></div>
<span style="position:absolute;left:1229px;top:8px;font-size:11px;color:#fff">EL</span>
<svg width="90" height="30" style="position:absolute;left:1248px;top:0">
<path d="M4 22L13 11" stroke="#fff" stroke-width="2.6"/><path d="M4 22L13 11" stroke="#222" stroke-width="1"/><circle cx="15" cy="8" r="3.5" fill="#d0d0d0" stroke="#333"/>
<rect x="24" y="7" width="16" height="12" fill="#fff" stroke="#222"/><rect x="26" y="9" width="12" height="3" fill="#2a5ab8"/><path d="M27 22L37 12" stroke="#222" stroke-width="1.4"/>
<rect x="45" y="6" width="14" height="16" rx="2" fill="#fff" stroke="#222" stroke-width="1.3"/><text x="48" y="19" style="font:bold 12px sans-serif;fill:#000">?</text>
<rect x="70" y="5" width="8" height="5" fill="none" stroke="#fff"/><rect x="67" y="8" width="8" height="5" fill="#245edb" stroke="#fff"/><path d="M69 18L73 22L77 18Z" fill="#fff"/>
</svg>
<div id="tray">
<svg width="212" height="30" style="position:absolute;left:0;top:0">
<g transform="translate(19,15)"><circle cx="-3" cy="-2" r="4" fill="#7ab0e0"/><circle cx="2" cy="-6" r="3" fill="#60c060"/><circle cx="3" cy="4" r="3.5" fill="#e03020"/><path d="M1.5 2.5L4.5 5.5M4.5 2.5L1.5 5.5" stroke="#fff" stroke-width=".8"/></g>
<g transform="translate(36,15)"><rect x="-8" y="-8" width="16" height="16" rx="2" fill="#f07830"/><path d="M-5 5H5M-2 -4L2 2" stroke="#fff" stroke-width="1.4"/></g>
<g transform="translate(55,15)"><path d="M0 -8L7 -5V1Q7 6 0 9Q-7 6 -7 1V-5Z" fill="#f8d020" stroke="#806000" stroke-width=".6"/><rect x="-1" y="-4" width="2" height="6" fill="#604000"/></g>
<g transform="translate(73,15)"><path d="M-7 -4Q0 -10 7 -4L5 6H-5Z" fill="#e84040"/><path d="M-5 -3L0 2L5 -3" stroke="#fff" stroke-width="1.4" fill="none"/></g>
<g transform="translate(90,15)"><rect x="-8" y="-3" width="16" height="11" fill="#f0a020"/><rect x="-2" y="-10" width="6" height="8" fill="#f8c040"/><rect x="-1" y="0" width="2" height="5" fill="#fff"/></g>
<g transform="translate(108,15)"><ellipse cx="0" cy="1" rx="8" ry="5.5" fill="#b890d8" stroke="#604080" stroke-width=".8"/><rect x="-3" y="-3" width="6" height="8" fill="#fff" opacity=".6"/></g>
<g transform="translate(125,15)"><circle cx="0" cy="-1" r="6.5" fill="#505860" stroke="#d0d0d0" stroke-width="1"/><circle cx="0" cy="-1" r="2.5" fill="#c0c8d0"/><path d="M3 8L8 3" stroke="#9ab" stroke-width="1"/></g>
<g transform="translate(144,15)"><rect x="-8" y="-8" width="16" height="16" rx="4" fill="#20a040"/><circle cx="0" cy="0" r="5" fill="#c0f0c0"/><circle cx="0" cy="0" r="2" fill="#20a040"/></g>
<g transform="translate(163,15)"><rect x="-8" y="-9" width="16" height="18" fill="#f0e8d8" stroke="#d06020"/><rect x="-6" y="-7" width="12" height="5" fill="#4070c0"/><rect x="-8" y="4" width="16" height="5" fill="#e08030"/></g>
<g transform="translate(181,15)"><path d="M-9 0Q0 -8 9 0Q0 6 -9 0Z" fill="#50b030"/><circle cx="0" cy="0" r="2.5" fill="#2a7a20"/></g>
<g transform="translate(199,15)"><rect x="-7" y="-7" width="13" height="13" fill="#1a2ad0"/><text x="-6" y="4" style="font:bold 11px sans-serif;fill:#fff">R</text><rect x="3" y="-10" width="5" height="5" fill="#40a0e0"/></g>
</svg>
<span style="position:absolute;left:213px;top:7px;font-size:11.5px;color:#fff;">06:21</span></div>
</div>
</body></html>
